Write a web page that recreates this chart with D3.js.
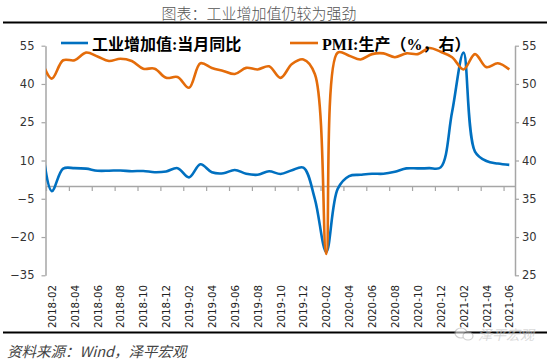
<!DOCTYPE html>
<html>
<head>
<meta charset="utf-8">
<script src="https://cdn.jsdelivr.net/npm/d3@7/dist/d3.min.js"></script>
<style>
  html, body { margin: 0; padding: 0; background: #fff; }
  svg { display: block; }
</style>
</head>
<body>
<div id="chart"></div>
<script>
// ---------------- data ----------------
const categories = [
  "2018-01","2018-02","2018-03","2018-04","2018-05","2018-06","2018-07","2018-08","2018-09","2018-10","2018-11","2018-12",
  "2019-01","2019-02","2019-03","2019-04","2019-05","2019-06","2019-07","2019-08","2019-09","2019-10","2019-11","2019-12",
  "2020-01","2020-02","2020-03","2020-04","2020-05","2020-06","2020-07","2020-08","2020-09","2020-10","2020-11","2020-12",
  "2021-01","2021-02","2021-03","2021-04","2021-05","2021-06"
];
// 工业增加值:当月同比 (left axis)
const ivaValues = [
  22, -2, 6.8, 7.0, 6.8, 6.0, 6.0, 6.1, 5.8, 5.9, 5.4, 5.7,
  7.0, 3.4, 8.5, 5.4, 5.0, 6.3, 4.8, 4.4, 5.8, 4.7, 6.2, 7.2,
  -5, -25.9, -1.1, 3.9, 4.4, 4.8, 4.8, 5.6, 6.9, 6.9, 7.0, 7.3,
  29, 52.3, 13.5, 9.8, 8.8, 8.3
];
// PMI:生产 (right axis)
const pmiValues = [
  53.5, 50.7, 53.1, 53.1, 54.1, 53.6, 53.0, 53.3, 53.0, 52.0, 52.0, 50.8,
  50.9, 49.5, 52.7, 52.1, 51.7, 51.3, 52.1, 51.9, 52.3, 50.8, 52.6, 53.2,
  51.3, 27.8, 54.1, 53.7, 53.2, 53.9, 54.0, 53.5, 54.0, 53.9, 54.7, 54.2,
  53.5, 51.9, 53.9, 52.2, 52.7, 51.9
];
const leftTicks = [55, 40, 25, 10, -5, -20, -35];
const rightTicks = [55, 50, 45, 40, 35, 30, 25];
const xLabels = ["2018-02","2018-04","2018-06","2018-08","2018-10","2018-12",
  "2019-02","2019-04","2019-06","2019-08","2019-10","2019-12",
  "2020-02","2020-04","2020-06","2020-08","2020-10","2020-12",
  "2021-02","2021-04","2021-06"];
const titleText = "图表：工业增加值仍较为强劲";
const legendNames = ["工业增加值:当月同比", "PMI:生产（%，右）"];
const sourceText = "资料来源：Wind，泽平宏观";

// ---------------- layout ----------------
const W = 550, H = 359;
const plotL = 46, plotR = 515, plotT = 45.7, plotB = 275.3;
const blue = "#0070C0", orange = "#E46C0A", axisGray = "#a6a6a6";
const cjk = "'Noto Sans CJK SC', 'Noto Sans', sans-serif";
const tickFont = "'DejaVu Sans', 'Liberation Sans', sans-serif";

const svg = d3.select("#chart").append("svg").attr("width", W).attr("height", H);

// first visible category is index 1 (2018-02); index 0 lies half a step left of the plot and is clipped
const nVisible = categories.length - 1;
const x = d3.scaleLinear().domain([0.5, nVisible + 0.5]).range([plotL, plotR]);
const yL = d3.scaleLinear().domain([-35, 55]).range([plotB, plotT]);
const yR = d3.scaleLinear().domain([25, 55]).range([plotB, plotT]);

// title
svg.append("text").attr("x", 259).attr("y", 12).attr("text-anchor", "middle")
  .attr("dominant-baseline", "central")
  .style("font-family", cjk).style("font-size", "15px").style("font-weight", 300)
  .attr("fill", "#555").text(titleText);
svg.append("line").attr("x1", 3).attr("x2", 547).attr("y1", 22.5).attr("y2", 22.5)
  .attr("stroke", "#000").attr("stroke-width", 2.2);

// axes
function styleAxis(g) {
  g.select(".domain").attr("stroke", axisGray).attr("stroke-width", 1.5);
  g.selectAll(".tick line").attr("stroke", axisGray).attr("stroke-width", 1.2);
  g.selectAll("text").attr("fill", "#333").style("font-family", tickFont);
}
const gL = svg.append("g").attr("transform", `translate(${plotL - 0.5},0)`)
  .call(d3.axisLeft(yL).tickValues(leftTicks).tickSize(4).tickSizeOuter(0).tickPadding(7));
styleAxis(gL); gL.selectAll("text").style("font-size", "11.5px");

const gR = svg.append("g").attr("transform", `translate(${plotR},0)`)
  .call(d3.axisRight(yR).tickValues(rightTicks).tickSize(4).tickSizeOuter(0).tickPadding(3));
styleAxis(gR); gR.selectAll("text").style("font-size", "11.5px");

// bottom axis at left value 0
const y0 = yL(0);
const boundaryTicks = d3.range(0.5, nVisible + 0.5, 2);
const gBt = svg.append("g").attr("transform", `translate(0,${y0})`)
  .call(d3.axisBottom(x).tickValues(boundaryTicks).tickSize(5).tickSizeOuter(0).tickFormat(""));
styleAxis(gBt);

const labelIdx = xLabels.map(l => categories.indexOf(l));
const gBl = svg.append("g").attr("transform", `translate(0,285)`)
  .call(d3.axisBottom(x).tickValues(labelIdx).tickSize(0).tickFormat(i => categories[i]));
gBl.select(".domain").remove();
gBl.selectAll("text")
  .attr("transform", "rotate(-90)").attr("x", 0).attr("y", 0).attr("dy", "0.35em")
  .attr("text-anchor", "end")
  .style("font-family", tickFont).style("font-size", "10.3px").attr("fill", "#222");

// clip
svg.append("clipPath").attr("id", "clip").append("rect")
  .attr("x", plotL).attr("y", 0).attr("width", plotR - plotL).attr("height", H);

const curve = d3.curveCatmullRom.alpha(0.5);
const lineL = d3.line().x((d, i) => x(i)).y(d => yL(d)).curve(curve);
const lineR = d3.line().x((d, i) => x(i)).y(d => yR(d)).curve(curve);

const gLines = svg.append("g").attr("clip-path", "url(#clip)");
gLines.append("path").datum(ivaValues).attr("d", lineL)
  .attr("fill", "none").attr("stroke", blue).attr("stroke-width", 2.6).attr("stroke-linejoin", "round");
gLines.append("path").datum(pmiValues).attr("d", lineR)
  .attr("fill", "none").attr("stroke", orange).attr("stroke-width", 2.6).attr("stroke-linejoin", "round");

// legend
const legend = [
  { name: legendNames[0], color: blue, x1: 61, x2: 88, tx: 92 },
  { name: legendNames[1], color: orange, x1: 290, x2: 318, tx: 322 }
];
legend.forEach(d => {
  svg.append("line").attr("x1", d.x1).attr("x2", d.x2).attr("y1", 43).attr("y2", 43)
    .attr("stroke", d.color).attr("stroke-width", 2.6);
  svg.append("text").attr("x", d.tx).attr("y", 44).attr("dominant-baseline", "central")
    .style("font-family", "'Liberation Serif', " + cjk).style("font-size", "16px").style("font-weight", 700)
    .attr("fill", "#000").text(d.name);
});

// bottom rule and source
svg.append("line").attr("x1", 3).attr("x2", 547).attr("y1", 332.5).attr("y2", 332.5)
  .attr("stroke", "#000").attr("stroke-width", 2.2);
svg.append("text").attr("x", 7).attr("y", 350).attr("dominant-baseline", "central")
  .style("font-family", cjk).style("font-size", "14.5px").style("font-style", "italic")
  .attr("fill", "#444").text(sourceText);

// watermark
const wm = svg.append("g").attr("opacity", 0.55);
wm.append("ellipse").attr("cx", 461).attr("cy", 333).attr("rx", 6).attr("ry", 5)
  .attr("fill", "#fff").attr("stroke", "#aaa").attr("stroke-width", 1.2);
wm.append("ellipse").attr("cx", 468).attr("cy", 336).attr("rx", 5).attr("ry", 4)
  .attr("fill", "#fff").attr("stroke", "#aaa").attr("stroke-width", 1.2);
wm.append("text").attr("x", 478).attr("y", 334).attr("dominant-baseline", "central")
  .style("font-family", cjk).style("font-size", "14px").style("font-style", "italic")
  .attr("fill", "#bbb").attr("stroke", "#fff").attr("stroke-width", 0.6).attr("paint-order", "stroke")
  .text("泽平宏观");
</script>
</body>
</html>
